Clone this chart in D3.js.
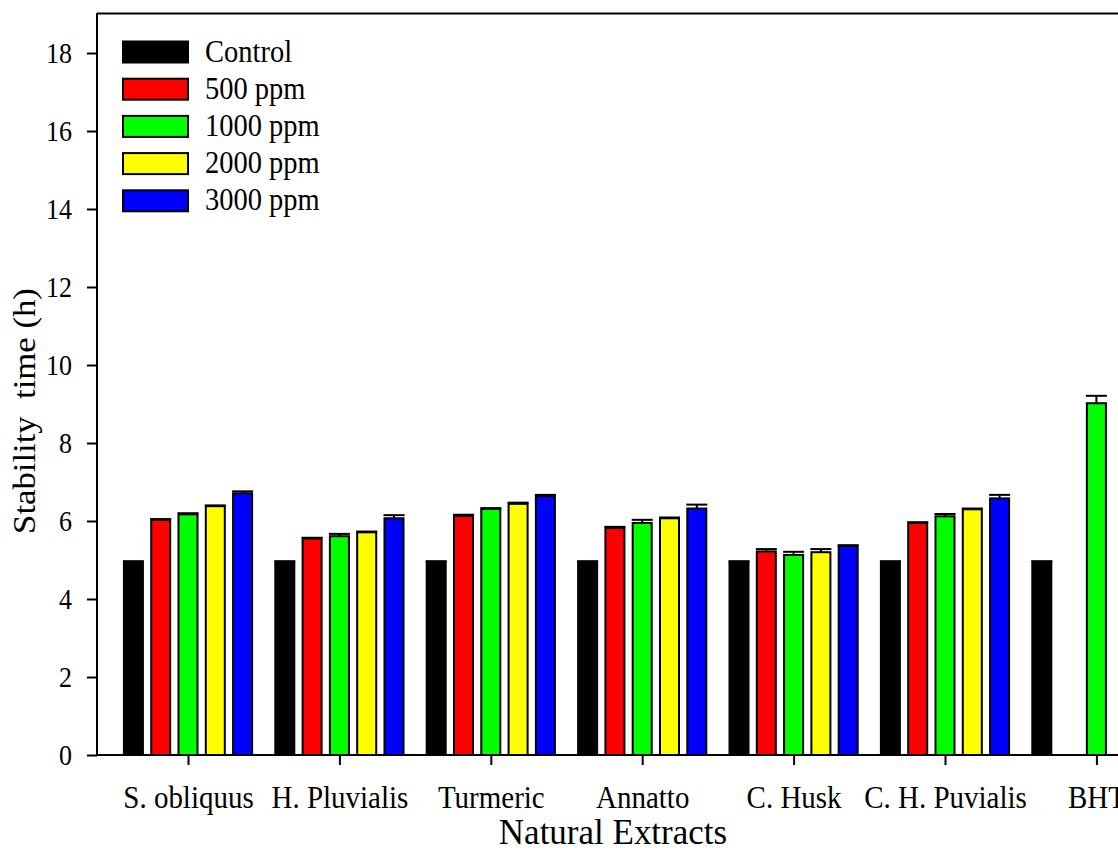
<!DOCTYPE html>
<html>
<head>
<meta charset="utf-8">
<script src="https://cdn.jsdelivr.net/npm/d3@7/dist/d3.min.js"></script>
<style>
html,body{margin:0;padding:0;background:#fff;}
svg{display:block;}
text{font-family:"Liberation Serif","Times New Roman",serif;fill:#000;}
</style>
</head>
<body>
<svg id="chart" width="1118" height="851"></svg>
<script>
const categories = ["S. obliquus","H. Pluvialis","Turmeric","Annatto","C. Husk","C. H. Puvialis","BHT"];
const seriesNames = ["Control","500 ppm","1000 ppm","2000 ppm","3000 ppm"];
const seriesColors = ["#000000","#ff0000","#00ff00","#ffff00","#0000ff"];
const control  = [4.95,4.95,4.95,4.95,4.95,4.95,4.95];
const ppm500   = [6.03,5.55,6.13,5.82,5.22,5.95,null];
const ppm1000  = [6.17,5.61,6.31,5.95,5.13,6.12,9.02];
const ppm2000  = [6.38,5.71,6.44,6.07,5.20,6.30,null];
const ppm3000  = [6.71,6.07,6.64,6.32,5.36,6.58,null];
const errControl = [0.02,0.02,0.02,0.02,0.02,0.02,0.02];
const err500   = [0.02,0.02,0.03,0.03,0.06,0.02,null];
const err1000  = [0.03,0.06,0.02,0.08,0.08,0.06,0.19];
const err2000  = [0.02,0.02,0.03,0.02,0.08,0.02,null];
const err3000  = [0.05,0.08,0.03,0.10,0.02,0.09,null];
const yTicks = [0,2,4,6,8,10,12,14,16,18];
const xTitle = "Natural Extracts";
const yTitle = "Stability  time (h)";

(function(){
const values = [control, ppm500, ppm1000, ppm2000, ppm3000];
const errors = [errControl, err500, err1000, err2000, err3000];

const svg = d3.select("#chart");
const SY = 1.12; // vertical stretch of the reference text

const plotLeft = 97, plotBottom = 755, plotTop = 14;
const groupStep = 151.4;
const firstCenter = 188;
const x0 = d3.scaleBand().domain(categories)
  .range([firstCenter - groupStep/2, firstCenter - groupStep/2 + groupStep*categories.length])
  .padding(0);
const innerHalf = 65.1;
const x1 = d3.scaleBand().domain(seriesNames).range([-innerHalf, innerHalf]).paddingInner(0.23).paddingOuter(0);
const y = d3.scaleLinear().domain([0,19]).range([plotBottom, plotTop]);

const flat = [];
categories.forEach((c, ci) => {
  seriesNames.forEach((s, si) => {
    const v = values[si][ci];
    if (v != null) flat.push({c, s, si, v, e: errors[si][ci]});
  });
});
const gBars = svg.append("g");
gBars.selectAll("rect.bar").data(flat).join("rect")
  .attr("class","bar")
  .attr("x", d => x0(d.c) + x0.bandwidth()/2 + x1(d.s) + 1)
  .attr("width", x1.bandwidth() - 2)
  .attr("y", d => y(d.v))
  .attr("height", d => y(0) - y(d.v))
  .attr("fill", d => seriesColors[d.si])
  .attr("stroke", "#000")
  .attr("stroke-width", 2);

const eb = gBars.selectAll("g.err").data(flat.filter(d => d.e)).join("g").attr("class","err");
eb.append("line")
  .attr("x1", d => x0(d.c) + x0.bandwidth()/2 + x1(d.s) + x1.bandwidth()/2)
  .attr("x2", d => x0(d.c) + x0.bandwidth()/2 + x1(d.s) + x1.bandwidth()/2)
  .attr("y1", d => y(d.v)).attr("y2", d => y(d.v + d.e))
  .attr("stroke","#000").attr("stroke-width",2);
eb.append("line")
  .attr("x1", d => x0(d.c) + x0.bandwidth()/2 + x1(d.s))
  .attr("x2", d => x0(d.c) + x0.bandwidth()/2 + x1(d.s) + x1.bandwidth())
  .attr("y1", d => y(d.v + d.e)).attr("y2", d => y(d.v + d.e))
  .attr("stroke","#000").attr("stroke-width",2);

svg.append("line").attr("x1", plotLeft).attr("x2", 1118).attr("y1", 13.5).attr("y2", 13.5)
  .attr("stroke","#000").attr("stroke-width",2);

const yAxis = svg.append("g").attr("transform", `translate(${plotLeft},0)`)
  .call(d3.axisLeft(y).tickValues(yTicks).tickSize(10).tickPadding(14).tickSizeOuter(0));
yAxis.select(".domain").attr("stroke-width",2).attr("d", `M0,${plotBottom+1}V13`);
yAxis.selectAll(".tick line").attr("stroke-width",2);
yAxis.selectAll(".tick text").remove();
yAxis.selectAll(".tick").append("text")
  .attr("text-anchor","end")
  .attr("font-size", 26)
  .attr("fill","#000")
  .attr("transform", `translate(-25,${9.5}) scale(1,${SY})`)
  .text(d => d);

const xCenters = d3.scalePoint().domain(categories)
  .range([firstCenter, firstCenter + groupStep*(categories.length-1)]);
const xAxis = svg.append("g").attr("transform", `translate(0,${plotBottom})`)
  .call(d3.axisBottom(xCenters).tickSize(10).tickPadding(0).tickSizeOuter(0));
xAxis.select(".domain").attr("stroke-width",2).attr("d", `M${plotLeft-1},0H1118`);
xAxis.selectAll(".tick line").attr("stroke-width",2);
xAxis.selectAll(".tick text").remove();
xAxis.selectAll(".tick").append("text")
  .attr("text-anchor","middle")
  .attr("font-size", 29)
  .attr("fill","#000")
  .attr("transform", `translate(0,${53}) scale(1,${SY})`)
  .text(d => d);

const legend = svg.append("g");
seriesNames.forEach((s, i) => {
  const cy = 52 + i*37.2;
  legend.append("rect").attr("x", 123).attr("y", cy - 10.5).attr("width", 65).attr("height", 21)
    .attr("fill", seriesColors[i]).attr("stroke","#000").attr("stroke-width",2);
  legend.append("text").attr("transform", `translate(205,${cy + 9.5}) scale(1,${SY})`)
    .attr("font-size", 28.5).text(s);
});

svg.append("text").attr("text-anchor","middle")
  .attr("transform", `translate(613,${844}) scale(1,1.05)`)
  .attr("font-size", 35).text(xTitle);
svg.append("text").attr("text-anchor","middle")
  .style("white-space","pre")
  .attr("transform", `translate(35,${411}) rotate(-90) scale(${SY},1)`)
  .attr("font-size", 31).text(yTitle);
})();
</script>
</body>
</html>
